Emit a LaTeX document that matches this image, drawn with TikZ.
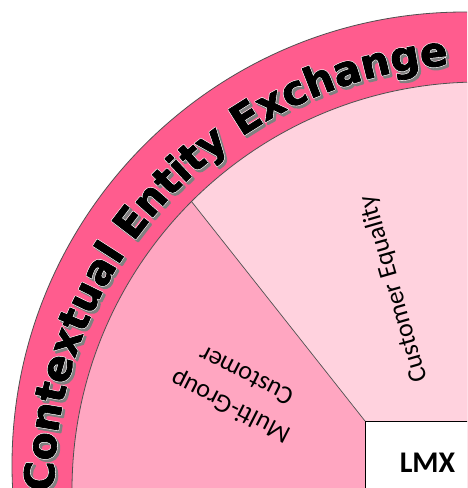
\documentclass[tikz,border=0pt]{standalone}
\usepackage{fontspec}
\setmainfont{Carlito}
\newfontfamily\bandfont[BoldFeatures={FakeBold=2}]{DejaVu Sans}
\newfontfamily\bandhalo[BoldFeatures={FakeBold=5}]{DejaVu Sans}
\usetikzlibrary{decorations.text}
\definecolor{bandpink}{HTML}{FF5C8E}
\definecolor{grouppink}{HTML}{FFA6C1}
\definecolor{equalpink}{HTML}{FFD2DE}
\definecolor{rimgray}{HTML}{505050}

\begin{document}
\begin{tikzpicture}[x=1pt, y=1pt, line join=round]

    % Styles
    \tikzstyle{rim} = [draw=rimgray, line width=0.8pt]
    \tikzstyle{sector} = [font=\fontsize{26}{35}\selectfont, align=center, inner sep=0pt]
    \tikzstyle{lmxbox} = [rectangle, draw=black, fill=white, line width=1pt, minimum width=124pt, minimum height=82pt, font=\fontsize{30}{36}\selectfont\bfseries, inner sep=0pt]
    \tikzstyle{divider} = [draw=rimgray, line width=0.7pt]

    \useasboundingbox (0,0) rectangle (467,488);
    \clip (0,0) rectangle (467,488);

    % Centres
    \coordinate (rimctr) at (465,23);
    \coordinate (ctr) at (480,-2);
    \coordinate (div) at ([shift={(135:408)}]ctr);
    \coordinate (corner) at (365,67);

    % Outer band
    \fill[bandpink] (rimctr) circle (453);
    \draw[rim] (rimctr) circle (453);

    % Sectors
    \fill[grouppink] (ctr) circle (408);
    \fill[equalpink] (div) arc[start angle=135, end angle=80, radius=408] -- (560,67) -- (corner) -- cycle;
    \draw[rim] (ctr) circle (408);

    % Band text (shadow, rim, letters)
    \foreach \dx/\fnt/\col in {2.4/\bandhalo/gray, 0/\bandhalo/white, 0/\bandfont/black}
        \path[decorate, decoration={text along path, text align=center,
            text={|\fnt\bfseries\fontsize{41}{41}\selectfont\color{\col}|Contextual Entity Exchange}}]
            ([shift={(\dx,-\dx)}]ctr) ++(190:426) arc[start angle=190, end angle=84.4, radius=426];

    % Sector labels
    \node[sector, rotate=106] (equality) at (394,199) {Customer Equality};
    \node[sector, rotate=153] (multigroup) at (238,96) {Multi-Group\\Customer};

    % LMX box
    \node[lmxbox, anchor=north west] (lmx) at (corner) {LMX};

    % Divider
    \draw[divider] (div) -- (lmx.north west);

\end{tikzpicture}
\end{document}
